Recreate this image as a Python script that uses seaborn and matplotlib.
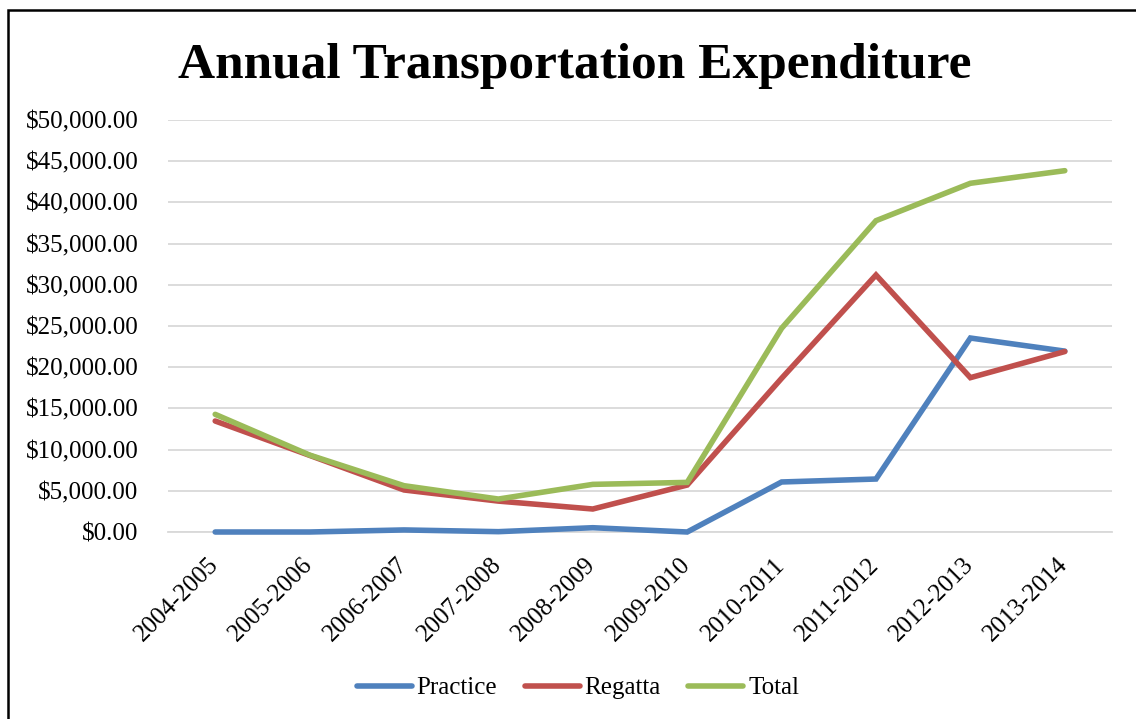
import matplotlib
matplotlib.use("Agg")
import matplotlib.pyplot as plt
import matplotlib.patches as mpatches
import matplotlib.transforms as mtransforms
import pandas as pd
import seaborn as sns
from matplotlib.ticker import FuncFormatter, MultipleLocator

# Fiscal years
years = ["2004-2005", "2005-2006", "2006-2007", "2007-2008", "2008-2009",
         "2009-2010", "2010-2011", "2011-2012", "2012-2013", "2013-2014"]

# Expenditure per year (USD)
practice = [0, 0, 250, 40, 520, 0, 6070, 6430, 23540, 21950]
regatta = [13470, 9300, 5100, 3750, 2790, 5700, 18650, 31190, 18730, 21900]
total = [14280, 9340, 5620, 4000, 5780, 6020, 24720, 37780, 42320, 43850]

series_names = ["Practice", "Regatta", "Total"]
colors = ["#4F81BD", "#C0504D", "#9BBB59"]

df = pd.DataFrame({
    "Year": years * 3,
    "Amount": practice + regatta + total,
    "Series": [s for s in series_names for _ in years],
})

sns.set_theme(style="white")
plt.rcParams["font.family"] = ["Liberation Serif", "DejaVu Serif"]
plt.rcParams["text.color"] = "black"
plt.rcParams["xtick.color"] = "black"
plt.rcParams["ytick.color"] = "black"

fig = plt.figure(figsize=(11.36, 7.19), dpi=100)
ax = fig.add_axes([168 / 1136, 1 - 532 / 719, (1112 - 168) / 1136, (532 - 120) / 719])

sns.lineplot(data=df, x="Year", y="Amount", hue="Series", hue_order=series_names,
             palette=colors, linewidth=4.0, sort=False, ax=ax,
             solid_capstyle="round", solid_joinstyle="miter")
for line in ax.get_lines():
    line.set_clip_on(False)
    line.set_zorder(3)

ax.set_xlim(-0.5, len(years) - 0.5)
ax.set_ylim(0, 50000)
ax.yaxis.set_major_locator(MultipleLocator(5000))
ax.yaxis.set_major_formatter(FuncFormatter(lambda v, _: f"${v:,.2f}"))
ax.grid(axis="y", color="#D9D9D9", linewidth=1.3)
ax.set_axisbelow(True)
for side in ["top", "right", "left"]:
    ax.spines[side].set_visible(False)
ax.spines["bottom"].set_color("#D9D9D9")
ax.spines["bottom"].set_linewidth(1.3)
ax.tick_params(axis="y", length=0, pad=21.5, labelsize=18, labelcolor="black")
ax.tick_params(axis="x", length=0, pad=10, labelsize=18, labelcolor="black")
ax.set_xticks(range(len(years)))
ax.set_xticklabels(years, rotation=45, ha="right", rotation_mode="anchor")
# Nudge the rotated year labels down and to the left
shift = mtransforms.ScaledTranslation(-0.08, -0.08, fig.dpi_scale_trans)
for lbl in ax.get_xticklabels():
    lbl.set_transform(lbl.get_transform() + shift)
ax.set_xlabel("")
ax.set_ylabel("")

fig.text(0.506, 1 - 66 / 719, "Annual Transportation Expenditure",
         ha="center", va="center", fontsize=37, fontweight="bold", color="black")

handles, labels = ax.get_legend_handles_labels()
ax.legend(handles, labels, loc="center", bbox_to_anchor=(578 / 1136, 1 - 688 / 719),
          bbox_transform=fig.transFigure, ncol=3, frameon=False, fontsize=18,
          handlelength=2.2, handletextpad=0.2, columnspacing=1.1)
for line in ax.get_legend().get_lines():
    line.set_linewidth(4.0)
    line.set_solid_capstyle("round")

# Outer chart frame
fig.patches.append(mpatches.Rectangle((8 / 1136, -0.1), 1.2, 1.1 - 10 / 719,
                                      transform=fig.transFigure, fill=False,
                                      edgecolor="black", linewidth=1.8))

fig.savefig("out.png", dpi=100)
